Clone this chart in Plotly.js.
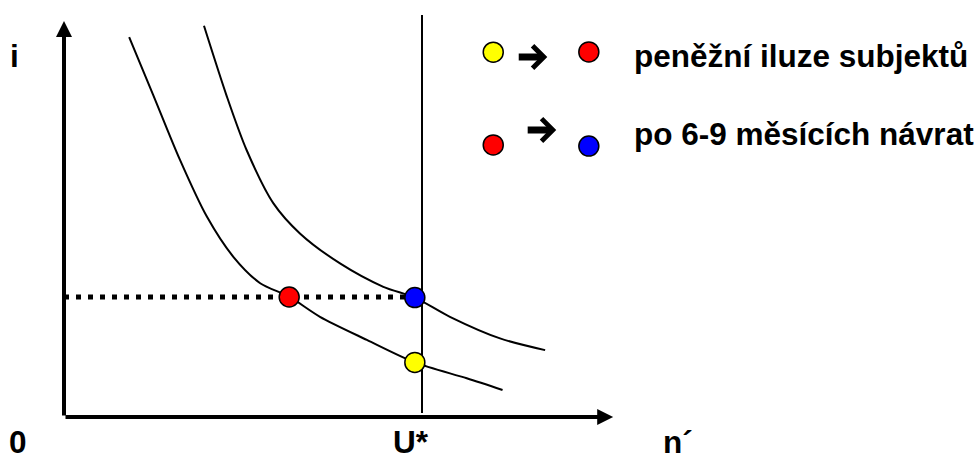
<!DOCTYPE html>
<html>
<head>
<meta charset="utf-8">
<script src="https://cdn.plot.ly/plotly-3.0.1.min.js"></script>
<style>html,body{margin:0;padding:0;background:#fff;}#chart{width:978px;height:461px;}</style>
</head>
<body>
<div id="chart"></div>
<script>
// ---- data (abstract diagram units: origin of axes = 0,0; U* = 10, i* = 4) ----
const lowerCurveX = [1.82, 2.49, 3.24, 3.99, 4.73, 5.48, 6.29, 7.15, 8.46, 9.80, 11.25, 12.25];
const lowerCurveY = [12.66, 10.74, 8.57, 6.68, 5.34, 4.46, 4.01, 3.34, 2.57, 1.82, 1.29, 0.90];
const upperCurveX = [3.91, 4.55, 5.10, 5.85, 6.59, 7.71, 8.92, 9.80, 10.78, 12.18, 13.44];
const upperCurveY = [13.04, 10.68, 8.90, 7.12, 6.12, 5.12, 4.34, 3.98, 3.34, 2.62, 2.23];

const uStar = 10.0;              // natural rate U*
const uStarLineY = [0.13, 13.4]; // extent of the vertical U* line
const iStar = 4.0;               // interest level of the dotted line
const dottedX = [0, 9.6];

const pointRed = [6.29, 4.0];
const pointBlue = [9.80, 3.98];
const pointYellow = [9.80, 1.82];

const axisXEnd = 15.34;
const axisYEnd = 13.2;

// legend rows
const legendMarkX = [11.99, 14.66];
const legendRow1Y = [12.16, 12.17];
const legendRow2Y = [9.07, 9.03];
const legendRow1Colors = ['#FFFF00', '#FF0000'];
const legendRow2Colors = ['#FF0000', '#0000FF'];
const legendArrow1 = {x0: 12.66, x1: 13.50, y: 12.0};
const legendArrow2 = {x0: 12.91, x1: 13.75, y: 9.57};
const legendTextX = 15.87;
const legendTexts = ['peněžní iluze subjektů', 'po 6-9 měsících návrat'];
const legendTextY = [12.05, 9.42];

// axis labels
const axisLabels = ['i', '0', 'U*', 'n´'];
const axisLabelX = [-1.37, -1.285, 9.69, 17.15];
const axisLabelY = [12.05, -0.84, -0.84, -0.84];

// ---- traces ----
const black = '#000000';
const traces = [
  {x: lowerCurveX, y: lowerCurveY, mode: 'lines', line: {color: black, width: 2, shape: 'spline', smoothing: 0.8}},
  {x: upperCurveX, y: upperCurveY, mode: 'lines', line: {color: black, width: 2, shape: 'spline', smoothing: 0.8}},
  {x: [uStar, uStar], y: uStarLineY, mode: 'lines', line: {color: black, width: 2}},
  {x: dottedX, y: [iStar, iStar], mode: 'lines', line: {color: black, width: 5, dash: '5px,7px'}},
  {x: [pointRed[0], pointBlue[0], pointYellow[0]], y: [pointRed[1], pointBlue[1], pointYellow[1]], mode: 'markers',
   marker: {size: 20, color: ['#FF0000', '#0000FF', '#FFFF00'], line: {color: black, width: 1.5}}},
  {x: legendMarkX, y: legendRow1Y, mode: 'markers', marker: {size: 20, color: legendRow1Colors, line: {color: black, width: 1.5}}},
  {x: legendMarkX, y: legendRow2Y, mode: 'markers', marker: {size: 20, color: legendRow2Colors, line: {color: black, width: 1.5}}}
];

const font = {family: 'Liberation Sans, Arial, sans-serif', size: 31.5, color: black, weight: 'bold'};
const annotations = [];
// axes as arrows
annotations.push({x: axisXEnd, y: 0, ax: 0, ay: 0, xref: 'x', yref: 'y', axref: 'x', ayref: 'y', text: '',
  showarrow: true, arrowhead: 2, arrowsize: 0.8, arrowwidth: 4, arrowcolor: black, standoff: 0});
annotations.push({x: 0, y: axisYEnd, ax: 0, ay: 0, xref: 'x', yref: 'y', axref: 'x', ayref: 'y', text: '',
  showarrow: true, arrowhead: 2, arrowsize: 0.8, arrowwidth: 4, arrowcolor: black, standoff: 0});
// legend arrows
[legendArrow1, legendArrow2].forEach(a => annotations.push({x: a.x1, y: a.y, ax: a.x0, ay: a.y, xref: 'x', yref: 'y', axref: 'x', ayref: 'y',
  text: '', showarrow: true, arrowhead: 4, arrowsize: 0.62, arrowwidth: 7, arrowcolor: black, standoff: 0}));
// labels
axisLabels.forEach((t, k) => annotations.push({x: axisLabelX[k], y: axisLabelY[k], xref: 'x', yref: 'y', text: t,
  showarrow: false, xanchor: 'center', yanchor: 'middle', borderpad: 0, font: font}));
legendTexts.forEach((t, k) => annotations.push({x: legendTextX, y: legendTextY[k], xref: 'x', yref: 'y', text: t,
  showarrow: false, xanchor: 'left', yanchor: 'middle', font: font}));

const layout = {
  width: 978, height: 461,
  margin: {l: 0, r: 0, t: 0, b: 0, pad: 0},
  paper_bgcolor: '#ffffff', plot_bgcolor: '#ffffff',
  showlegend: false,
  xaxis: {range: [-64 / 35.8, 914 / 35.8], visible: false, fixedrange: true},
  yaxis: {range: [-44 / 30, 417 / 30], visible: false, fixedrange: true},
  annotations: annotations,
  hovermode: false
};

Plotly.newPlot('chart', traces, layout, {staticPlot: true, displayModeBar: false});
</script>
</body>
</html>
